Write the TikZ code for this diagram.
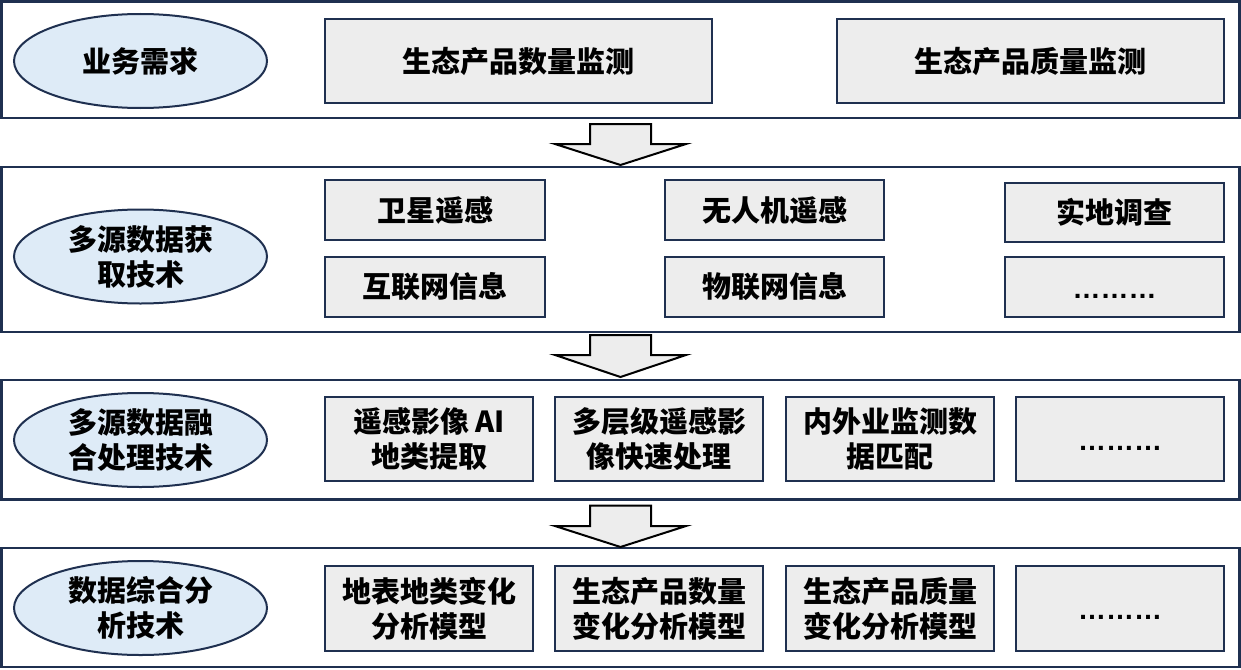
\documentclass[tikz,border=0pt]{standalone}
\usepackage{fontspec}
\newfontfamily\cjk{Noto Sans CJK SC}
\newfontfamily\dotfont{Liberation Sans}
\usetikzlibrary{shapes.geometric}
\definecolor{navy}{HTML}{1F3050}
\definecolor{boxgray}{HTML}{EDEDED}
\definecolor{lblue}{HTML}{DEEBF7}
\tikzset{
  panel/.style={draw=navy, line width=2.5pt, inner sep=0pt},
  item/.style={draw=navy, line width=2.5pt, fill=boxgray, inner sep=0pt,
    font=\cjk\bfseries\fontsize{29}{35}\selectfont, align=center, text=black},
  lbl/.style={ellipse, draw=navy, line width=2pt, fill=lblue, inner sep=0pt,
    minimum width=253pt, minimum height=94pt,
    font=\cjk\bfseries\fontsize{29}{35}\selectfont, align=center, text=black},
  blockarr/.style={draw=black, line width=2pt, fill=boxgray, line join=miter},
}
\newcommand\dotstext{{\cjk\vphantom{生}}{\dotfont\bfseries\fontsize{28}{35}\selectfont ………}}
\begin{document}
\begin{tikzpicture}[x=1pt,y=-1pt]
\useasboundingbox (0,0) rectangle (1241,669);
% panels
\node[panel, minimum width=1238pt, minimum height=116.5pt] (p1) at (620.5,59.75) {};
\node[panel, minimum width=1238pt, minimum height=165pt] (p2) at (620.5,249.5) {};
\node[panel, minimum width=1238pt, minimum height=119.5pt] (p3) at (620.5,439.75) {};
\node[panel, minimum width=1238pt, minimum height=119pt] (p4) at (620.5,607.5) {};
% ellipses
\node[lbl] (e1) at (140.5,61) {业务需求};
\node[lbl] (e2) at (140.5,256.5) {多源数据获\\取技术};
\node[lbl] (e3) at (140.5,440) {多源数据融\\合处理技术};
\node[lbl] (e4) at (140.5,608) {数据综合分\\析技术};
% panel 1
\node[item, minimum width=387pt, minimum height=84pt] (b11) at (518.5,61) {生态产品数量监测};
\node[item, minimum width=387pt, minimum height=84pt] (b12) at (1030.5,61) {生态产品质量监测};
% panel 2
\node[item, minimum width=220pt, minimum height=60pt] (b21) at (435,210) {卫星遥感};
\node[item, minimum width=219pt, minimum height=60pt] (b22) at (774.5,210) {无人机遥感};
\node[item, minimum width=219pt, minimum height=59pt] (b23) at (1114.5,212.5) {实地调查};
\node[item, minimum width=220pt, minimum height=60pt] (b24) at (435,287) {互联网信息};
\node[item, minimum width=219pt, minimum height=60pt] (b25) at (774.5,287) {物联网信息};
\node[item, minimum width=219pt, minimum height=60pt] (b26) at (1114.5,287) {\dotstext};
% panel 3
\node[item, minimum width=208pt, minimum height=84pt] (b31) at (429,439) {遥感影像 AI\\地类提取};
\node[item, minimum width=208pt, minimum height=84pt] (b32) at (659,439) {多层级遥感影\\像快速处理};
\node[item, minimum width=208pt, minimum height=84pt] (b33) at (890,439) {内外业监测数\\据匹配};
\node[item, minimum width=208pt, minimum height=84pt] (b34) at (1120,439) {\dotstext};
% panel 4
\node[item, minimum width=208pt, minimum height=85pt] (b41) at (429,608.5) {地表地类变化\\分析模型};
\node[item, minimum width=208pt, minimum height=85pt] (b42) at (659,608.5) {生态产品数量\\变化分析模型};
\node[item, minimum width=208pt, minimum height=85pt] (b43) at (890,608.5) {生态产品质量\\变化分析模型};
\node[item, minimum width=208pt, minimum height=85pt] (b44) at (1120,608.5) {\dotstext};
% block arrows
\draw[blockarr] (590,124) -- (651,124) -- (651,144) -- (686,144) -- (620.5,165) -- (555,144) -- (590,144) -- cycle;
\draw[blockarr] (590,335) -- (651,335) -- (651,355) -- (686,355) -- (620.5,377) -- (555,355) -- (590,355) -- cycle;
\draw[blockarr] (590,505.5) -- (651,505.5) -- (651,526) -- (686,526) -- (620.5,547) -- (555,526) -- (590,526) -- cycle;
\end{tikzpicture}
\end{document}
